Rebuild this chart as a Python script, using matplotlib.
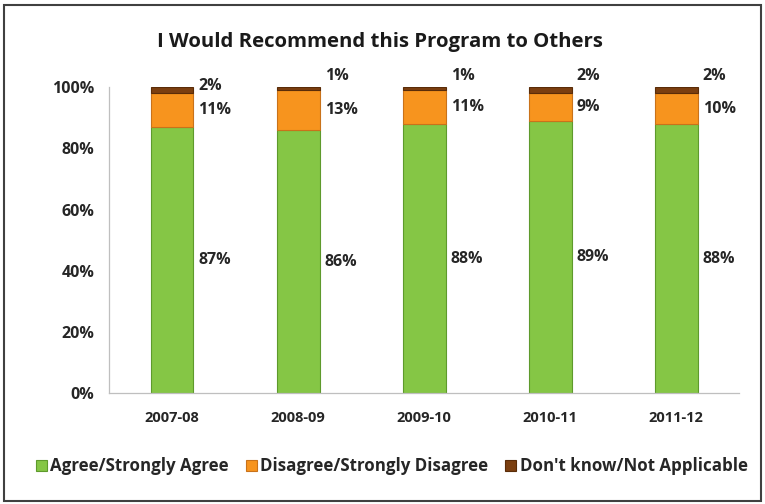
import matplotlib
matplotlib.use("Agg")
import matplotlib.pyplot as plt
from matplotlib.patches import Rectangle
import numpy as np

years = ["2007-08", "2008-09", "2009-10", "2010-11", "2011-12"]
agree = [87, 86, 88, 89, 88]
disagree = [11, 13, 11, 9, 10]
dont_know = [2, 1, 1, 2, 2]
series_names = ["Agree/Strongly Agree", "Disagree/Strongly Disagree", "Don't know/Not Applicable"]
colors = ["#85C645", "#F7941E", "#7B3F10"]
edges = ["#5E9A2C", "#C9721A", "#5A2C08"]

plt.rcParams["font.family"] = ["Open Sans", "DejaVu Sans"]
plt.rcParams["font.weight"] = "bold"

fig = plt.figure(figsize=(7.65, 5.04), dpi=100)
ax = fig.add_axes([0.1425, 0.22, 0.824, 0.607])

x = np.arange(len(years))
w = 0.34
b1 = ax.bar(x, agree, w, color=colors[0], edgecolor=edges[0], linewidth=0.8, label=series_names[0])
b2 = ax.bar(x, disagree, w, bottom=agree, color=colors[1], edgecolor=edges[1], linewidth=0.8, label=series_names[1])
bottom3 = np.array(agree) + np.array(disagree)
b3 = ax.bar(x, dont_know, w, bottom=bottom3, color=colors[2], edgecolor=edges[2], linewidth=0.8, label=series_names[2])

lab_kw = dict(fontsize=11.5, fontweight="bold", color="#262626", va="center", ha="left")
for i in range(len(years)):
    xl = x[i] + w / 2 + 0.04
    ax.text(xl, agree[i] / 2, f"{agree[i]}%", **lab_kw)
    ax.text(xl, agree[i] + disagree[i] / 2, f"{disagree[i]}%", **lab_kw)
    ax.text(xl, 100.5 if i == 0 else 103.5, f"{dont_know[i]}%", **lab_kw)

ax.set_xlim(-0.5, len(years) - 0.5)
ax.set_ylim(0, 100)
ax.set_yticks(np.arange(0, 101, 20))
ax.set_yticklabels([f"{v}%" for v in range(0, 101, 20)])
ax.set_xticks(x)
ax.set_xticklabels(years)
ax.tick_params(axis="both", length=0, colors="#262626")
ax.tick_params(axis="y", pad=10.5, labelsize=11.5)
ax.tick_params(axis="x", pad=13, labelsize=10.5)
for lab in ax.get_xticklabels() + ax.get_yticklabels():
    lab.set_fontweight("bold")
for s in ["top", "right"]:
    ax.spines[s].set_visible(False)
for s in ["left", "bottom"]:
    ax.spines[s].set_color("#BFBFBF")
    ax.spines[s].set_linewidth(0.9)

fig.text(0.497, 0.917, "I Would Recommend this Program to Others", ha="center", va="center",
         fontsize=14.7, fontweight="bold", color="#1A1A1A")

leg = fig.legend(handles=[b1, b2, b3], labels=series_names, loc="center", bbox_to_anchor=(0.512, 0.075),
                 ncol=3, frameon=False, fontsize=12.2, handlelength=0.65, handleheight=0.65,
                 handletextpad=0.2, columnspacing=1.0)
for t in leg.get_texts():
    t.set_fontweight("bold")
    t.set_color("#262626")

fig.patches.append(Rectangle((0.005, 0.006), 0.99, 0.985, transform=fig.transFigure, fill=False,
                             edgecolor="#404040", linewidth=1.5))

fig.savefig("out.png", dpi=100)
